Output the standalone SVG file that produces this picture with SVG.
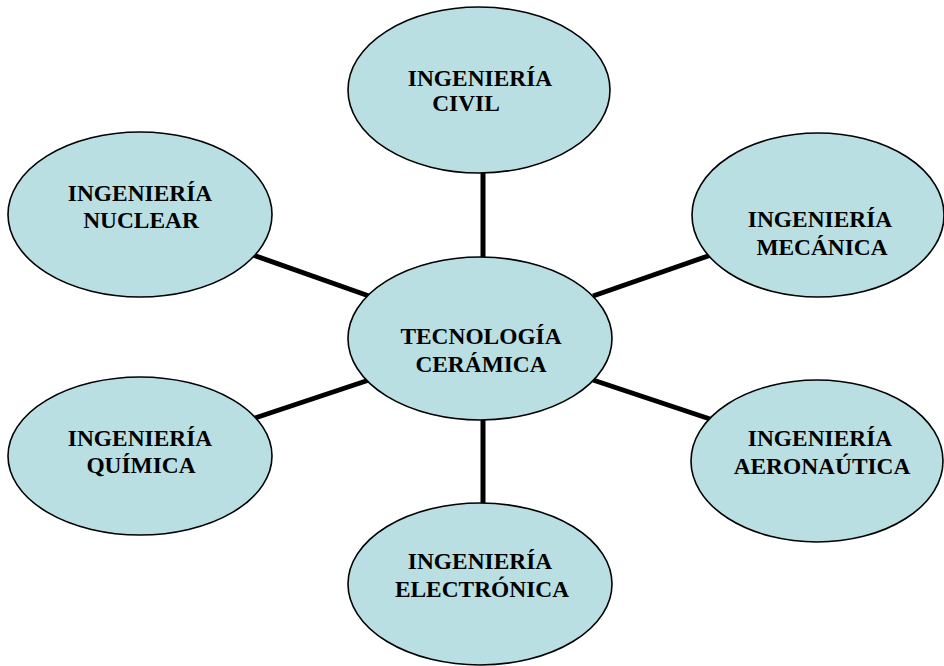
<svg xmlns="http://www.w3.org/2000/svg" width="944" height="666" viewBox="0 0 944 666">
<style>
.node ellipse { fill: #b9dfe3; stroke: #000; stroke-width: 1.6; }
.node text { font-family: "Liberation Serif", "Times New Roman", serif; font-weight: bold; font-size: 23.4px; fill: #000; text-anchor: middle; }
.conn line { stroke: #000; stroke-width: 5; }
</style>
<rect width="944" height="666" fill="#fff"/>
<g id="connectors" class="conn">
<line x1="483" y1="172" x2="483" y2="258"/>
<line x1="483" y1="419" x2="483" y2="504"/>
<line x1="253" y1="255" x2="369" y2="296"/>
<line x1="255" y1="418" x2="369" y2="380"/>
<line x1="593" y1="296" x2="711" y2="255"/>
<line x1="593" y1="380" x2="710" y2="419"/>
</g>
<g id="civil" class="node">
<ellipse cx="479" cy="90" rx="131" ry="83"/>
<text x="480" y="86">INGENIERÍA</text>
<text x="466" y="111">CIVIL</text>
</g>
<g id="nuclear" class="node">
<ellipse cx="140" cy="214.5" rx="132" ry="82.5"/>
<text x="140" y="201">INGENIERÍA</text>
<text x="141" y="228">NUCLEAR</text>
</g>
<g id="mecanica" class="node">
<ellipse cx="818" cy="215" rx="126" ry="82"/>
<text x="820" y="227">INGENIERÍA</text>
<text x="822" y="255">MECÁNICA</text>
</g>
<g id="ceramica" class="node">
<ellipse cx="480" cy="338.5" rx="132" ry="81.5"/>
<text x="481" y="344">TECNOLOGÍA</text>
<text x="481" y="372">CERÁMICA</text>
</g>
<g id="quimica" class="node">
<ellipse cx="140" cy="456" rx="132" ry="79"/>
<text x="140" y="446">INGENIERÍA</text>
<text x="141" y="473">QUÍMICA</text>
</g>
<g id="aeronautica" class="node">
<ellipse cx="817" cy="461" rx="126" ry="81"/>
<text x="820" y="446">INGENIERÍA</text>
<text x="822" y="474">AERONAÚTICA</text>
</g>
<g id="electronica" class="node">
<ellipse cx="480" cy="584" rx="132" ry="81"/>
<text x="480" y="569">INGENIERÍA</text>
<text x="482" y="597">ELECTRÓNICA</text>
</g>
</svg>
